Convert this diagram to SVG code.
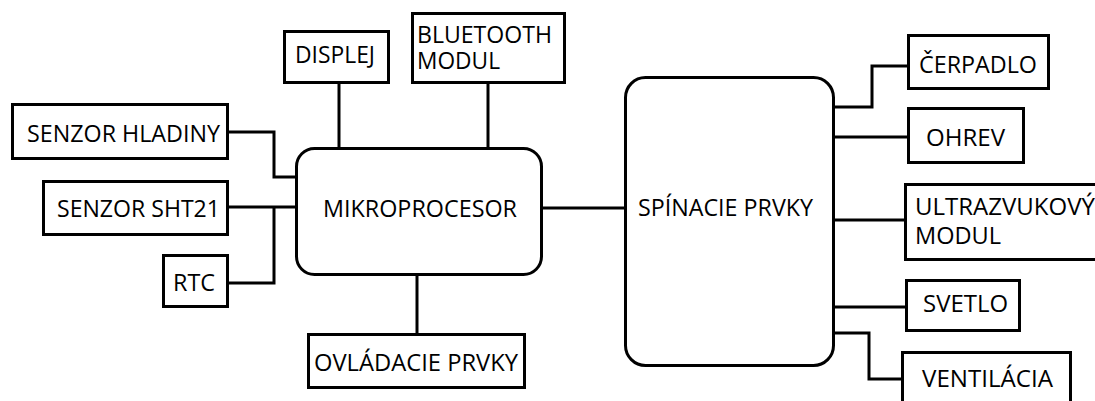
<svg xmlns="http://www.w3.org/2000/svg" width="1095" height="401" viewBox="0 0 1095 401">
<style>
.b{fill:#fff;stroke:#000;stroke-width:3}
.c{fill:none;stroke:#000;stroke-width:3}
text{font-family:"Open Sans","Liberation Sans",sans-serif;font-size:23px;fill:#000}
</style>
<rect width="1095" height="401" fill="#fff"/>
<g id="connectors">
<path class="c" d="M339,83V148"/>
<path class="c" d="M488,83V148"/>
<path class="c" d="M229,132H274V177H296"/>
<path class="c" d="M229,207H296"/>
<path class="c" d="M229,283H274V207"/>
<path class="c" d="M417,275V334"/>
<path class="c" d="M543,208H625"/>
<path class="c" d="M834,107H872V66H908"/>
<path class="c" d="M834,137H908"/>
<path class="c" d="M834,220H905"/>
<path class="c" d="M834,307H906"/>
<path class="c" d="M834,333H869V379H902"/>
</g>
<g id="displej"><rect class="b" x="284.5" y="31.5" width="104" height="51"/><text x="295" y="63" textLength="80" lengthAdjust="spacingAndGlyphs">DISPLEJ</text></g>
<g id="bluetooth"><rect class="b" x="412.5" y="13.5" width="152" height="69"/><text x="417" y="43" textLength="135" lengthAdjust="spacingAndGlyphs">BLUETOOTH</text><text x="417" y="69" textLength="83" lengthAdjust="spacingAndGlyphs">MODUL</text></g>
<g id="hladina"><rect class="b" x="12.5" y="104.5" width="215" height="54"/><text x="27" y="142" textLength="193" lengthAdjust="spacingAndGlyphs">SENZOR HLADINY</text></g>
<g id="sht21"><rect class="b" x="43.5" y="181.5" width="184" height="53"/><text x="57" y="217" textLength="163" lengthAdjust="spacingAndGlyphs">SENZOR SHT21</text></g>
<g id="rtc"><rect class="b" x="163.5" y="255.5" width="64" height="51"/><text x="173" y="291" textLength="42" lengthAdjust="spacingAndGlyphs">RTC</text></g>
<g id="mikroprocesor"><rect class="b" x="296.5" y="148.5" width="245" height="126" rx="18"/><text x="323" y="217" textLength="194" lengthAdjust="spacingAndGlyphs">MIKROPROCESOR</text></g>
<g id="ovladacie"><rect class="b" x="308.5" y="334.5" width="216" height="53"/><text x="314" y="371" textLength="204" lengthAdjust="spacingAndGlyphs">OVLÁDACIE PRVKY</text></g>
<g id="spinacie"><rect class="b" x="625.5" y="77.5" width="208" height="288" rx="20"/><text x="638" y="216" textLength="175" lengthAdjust="spacingAndGlyphs">SPÍNACIE PRVKY</text></g>
<g id="cerpadlo"><rect class="b" x="908.5" y="35.5" width="140" height="53"/><text x="919" y="73" textLength="118" lengthAdjust="spacingAndGlyphs">ČERPADLO</text></g>
<g id="ohrev"><rect class="b" x="908.5" y="108.5" width="115" height="54"/><text x="926" y="146" textLength="79" lengthAdjust="spacingAndGlyphs">OHREV</text></g>
<g id="ultrazvuk"><rect class="b" x="905.5" y="184.5" width="200" height="75"/><text x="915" y="215" textLength="180" lengthAdjust="spacingAndGlyphs">ULTRAZVUKOVÝ</text><text x="915" y="244" textLength="86" lengthAdjust="spacingAndGlyphs">MODUL</text></g>
<g id="svetlo"><rect class="b" x="906.5" y="280.5" width="113" height="50"/><text x="923" y="312" textLength="85" lengthAdjust="spacingAndGlyphs">SVETLO</text></g>
<g id="ventilacia"><rect class="b" x="902.5" y="352.5" width="168" height="60"/><text x="922" y="387" textLength="131" lengthAdjust="spacingAndGlyphs">VENTILÁCIA</text></g>
</svg>
